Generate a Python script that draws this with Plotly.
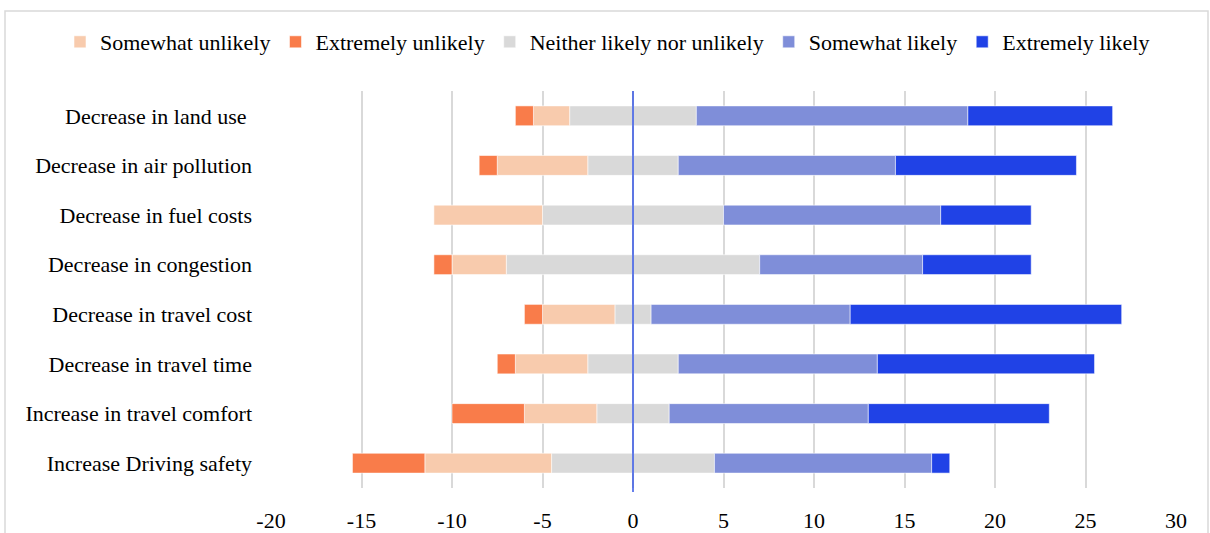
import plotly.graph_objects as go

# Survey responses (number of respondents) per expected benefit
categories = [
    "Decrease in land use ",
    "Decrease in air pollution",
    "Decrease in fuel costs",
    "Decrease in congestion",
    "Decrease in travel cost",
    "Decrease in travel time",
    "Increase in travel comfort",
    "Increase Driving safety",
]
extremely_unlikely = [1, 1, 0, 1, 1, 1, 4, 4]
somewhat_unlikely = [2, 5, 6, 3, 4, 4, 4, 7]
neither = [7, 5, 10, 14, 2, 5, 4, 9]
somewhat_likely = [15, 12, 12, 9, 11, 11, 11, 12]
extremely_likely = [8, 10, 5, 6, 15, 12, 10, 1]

x_ticks = [-20, -15, -10, -5, 0, 5, 10, 15, 20, 25, 30]

FONT = "Liberation Serif, Times New Roman, serif"
W, H = 1210, 533
ML, MR, MT, MB = 271, 34, 91, 45
pw = W - ML - MR
ph = H - MT - MB


def px(xpix):
    """Pixel column -> paper x."""
    return (xpix - ML) / pw


def py(ypix):
    """Pixel row (from top) -> paper y."""
    return (H - MB - ypix) / ph


C_SU = "#F8CBAD"
C_EU = "#F97C4A"
C_NE = "#D9D9D9"
C_SL = "#7F8ED9"
C_EL = "#2042E6"

edge = dict(color="rgba(255,255,255,0.55)", width=1)

neither_half = [v / 2 for v in neither]

fig = go.Figure()
# negative side, stacked outward from zero
fig.add_trace(go.Bar(y=categories, x=[-v for v in neither_half], orientation="h",
                     marker=dict(color=C_NE, line=edge), name="Neither likely nor unlikely",
                     legendgroup="ne", showlegend=False))
fig.add_trace(go.Bar(y=categories, x=[-v for v in somewhat_unlikely], orientation="h",
                     marker=dict(color=C_SU, line=edge), name="Somewhat unlikely"))
fig.add_trace(go.Bar(y=categories, x=[-v for v in extremely_unlikely], orientation="h",
                     marker=dict(color=C_EU, line=edge), name="Extremely unlikely"))
# positive side
fig.add_trace(go.Bar(y=categories, x=neither_half, orientation="h",
                     marker=dict(color=C_NE, line=edge), name="Neither likely nor unlikely",
                     legendgroup="ne"))
fig.add_trace(go.Bar(y=categories, x=somewhat_likely, orientation="h",
                     marker=dict(color=C_SL, line=edge), name="Somewhat likely"))
fig.add_trace(go.Bar(y=categories, x=extremely_likely, orientation="h",
                     marker=dict(color=C_EL, line=edge), name="Extremely likely"))

fig.update_layout(
    width=W, height=H,
    margin=dict(l=ML, r=MR, t=MT, b=MB, autoexpand=False),
    barmode="relative",
    bargap=0.6,
    plot_bgcolor="white",
    paper_bgcolor="white",
    font=dict(family=FONT, size=22, color="#000000"),
    legend=dict(
        orientation="h",
        xref="paper", yref="paper",
        x=px(60), xanchor="left",
        y=py(42), yanchor="middle",
        font=dict(family=FONT, size=22, color="#000000"),
        itemwidth=30,
        traceorder="normal",
        bgcolor="rgba(0,0,0,0)",
    ),
    xaxis=dict(
        range=[-20, 30],
        tickvals=x_ticks,
        ticktext=[str(v) for v in x_ticks],
        showgrid=True, gridcolor="#D9D9D9", gridwidth=1.5,
        zeroline=False, showline=False,
        ticks="", ticklabelstandoff=17,
        automargin=False,
        tickfont=dict(family=FONT, size=22, color="#000000"),
    ),
    yaxis=dict(
        categoryorder="array", categoryarray=categories,
        autorange="reversed",
        showgrid=False, zeroline=False, showline=False,
        ticks="", ticklabelstandoff=18,
        automargin=False,
        tickfont=dict(family=FONT, size=22, color="#000000"),
    ),
    shapes=[
        # zero axis line drawn above the bars
        dict(type="line", xref="x", yref="paper", x0=0, x1=0, y0=py(492), y1=1,
             line=dict(color="#3355E6", width=1.5), layer="above"),
        # chart-area border
        dict(type="rect", xref="paper", yref="paper",
             x0=px(5), x1=px(W - 2), y0=py(H + 6), y1=py(11),
             line=dict(color="#D9D9D9", width=1.5), fillcolor="rgba(0,0,0,0)", layer="below"),
    ],
)

fig.write_html("out.html")
